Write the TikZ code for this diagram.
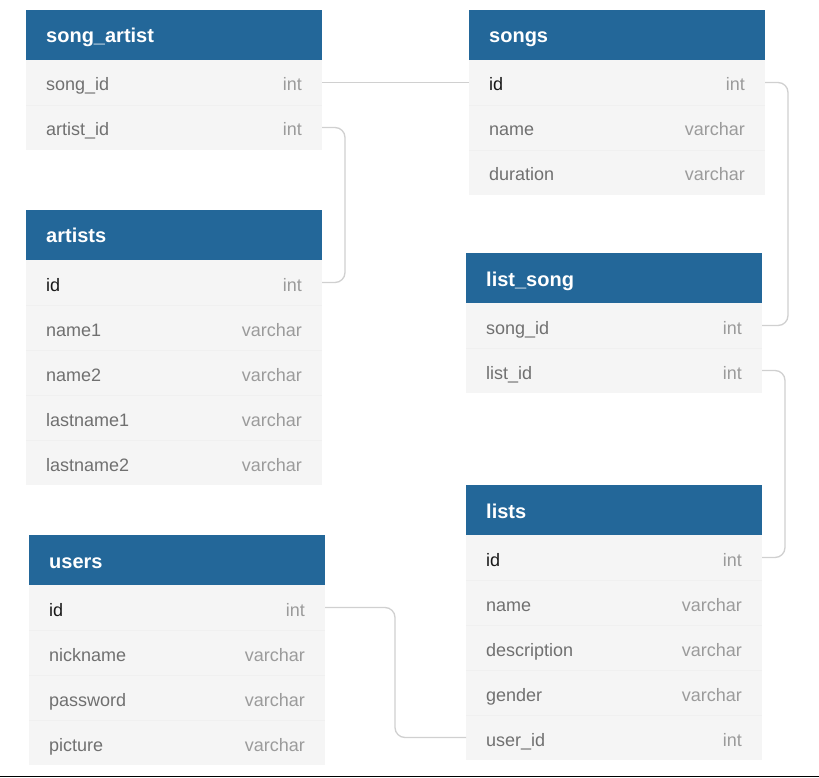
\documentclass[tikz,border=0pt]{standalone}
\usepackage{fontspec}
\setmainfont{Liberation Sans}
\definecolor{hdrblue}{RGB}{35,103,153}
\definecolor{rowgray}{RGB}{245,245,245}
\definecolor{sepgray}{RGB}{240,240,240}
\definecolor{fieldgray}{RGB}{112,112,112}
\definecolor{keyblack}{RGB}{25,25,25}
\definecolor{typegray}{RGB}{155,155,155}
\definecolor{relgray}{RGB}{208,208,208}
\tikzset{
  hdr/.style={fill=hdrblue, draw=none, minimum width=296pt, minimum height=50pt, anchor=north west, inner sep=0pt, outer sep=0pt},
  rowbox/.style={fill=rowgray, draw=none, minimum width=296pt, minimum height=45pt, anchor=north west, inner sep=0pt, outer sep=0pt},
  htext/.style={font=\bfseries\fontsize{20}{24}\selectfont, text=white, anchor=base west, inner sep=0pt},
  ftext/.style={font=\fontsize{18}{22}\selectfont, text=fieldgray, anchor=base west, inner sep=0pt},
  ttext/.style={font=\fontsize{18}{22}\selectfont, text=typegray, anchor=base east, inner sep=0pt},
  rowsep/.style={draw=sepgray, line width=0.8pt},
  rel/.style={draw=relgray, line width=1.3pt, rounded corners=10pt},
  baseline/.style={draw=black, line width=1.6pt}
}
\newcommand{\ehead}[4]{%
  \node[hdr] (#1) at (#2,#3) {};
  \node[htext] (#1-t) at (#2+20,#3+33) {#4};
}
\newcommand{\erow}[6]{%
  \node[rowbox] (#1) at (#2,#3) {};
  \node[ftext, text=#6] (#1-n) at (#2+20,#3+31) {#4};
  \node[ttext] (#1-y) at (#2+276,#3+31) {#5};
}
\newcommand{\esep}[1]{\draw[rowsep] (#1.north west) -- (#1.north east);}
\begin{document}
\begin{tikzpicture}[x=1pt,y=-1pt]
\useasboundingbox (0,0) rectangle (819,778);
\fill[white] (0,0) rectangle (819,778);

% song_artist
\ehead{sa}{26}{10}{song\_artist}
\erow{sa1}{26}{60}{song\_id}{int}{fieldgray}
\erow{sa2}{26}{105}{artist\_id}{int}{fieldgray}
\esep{sa2}

% artists
\ehead{ar}{26}{210}{artists}
\erow{ar1}{26}{260}{id}{int}{keyblack}
\erow{ar2}{26}{305}{name1}{varchar}{fieldgray}
\erow{ar3}{26}{350}{name2}{varchar}{fieldgray}
\erow{ar4}{26}{395}{lastname1}{varchar}{fieldgray}
\erow{ar5}{26}{440}{lastname2}{varchar}{fieldgray}
\esep{ar2}\esep{ar3}\esep{ar4}\esep{ar5}

% users
\ehead{us}{29}{535}{users}
\erow{us1}{29}{585}{id}{int}{keyblack}
\erow{us2}{29}{630}{nickname}{varchar}{fieldgray}
\erow{us3}{29}{675}{password}{varchar}{fieldgray}
\erow{us4}{29}{720}{picture}{varchar}{fieldgray}
\esep{us2}\esep{us3}\esep{us4}

% songs
\ehead{so}{469}{10}{songs}
\erow{so1}{469}{60}{id}{int}{keyblack}
\erow{so2}{469}{105}{name}{varchar}{fieldgray}
\erow{so3}{469}{150}{duration}{varchar}{fieldgray}
\esep{so2}\esep{so3}

% list_song
\ehead{ls}{466}{253}{list\_song}
\erow{ls1}{466}{303}{song\_id}{int}{fieldgray}
\erow{ls2}{466}{348}{list\_id}{int}{fieldgray}
\esep{ls2}

% lists
\ehead{li}{466}{485}{lists}
\erow{li1}{466}{535}{id}{int}{keyblack}
\erow{li2}{466}{580}{name}{varchar}{fieldgray}
\erow{li3}{466}{625}{description}{varchar}{fieldgray}
\erow{li4}{466}{670}{gender}{varchar}{fieldgray}
\erow{li5}{466}{715}{user\_id}{int}{fieldgray}
\esep{li2}\esep{li3}\esep{li4}\esep{li5}

% relations
\draw[rel] (sa1.east) -- (so1.west);
\draw[rel] (sa2.east) -- ([xshift=23pt]sa2.east) |- (ar1.east);
\draw[rel] (so1.east) -- ([xshift=23pt]so1.east) |- (ls1.east);
\draw[rel] (ls2.east) -- ([xshift=23pt]ls2.east) |- (li1.east);
\draw[rel] (us1.east) -- ([xshift=70pt]us1.east) |- (li5.west);

% bottom rule
\coordinate (bl) at (0,776.5);
\coordinate (br) at (819,776.5);
\draw[baseline] (bl) -- (br);
\end{tikzpicture}
\end{document}
